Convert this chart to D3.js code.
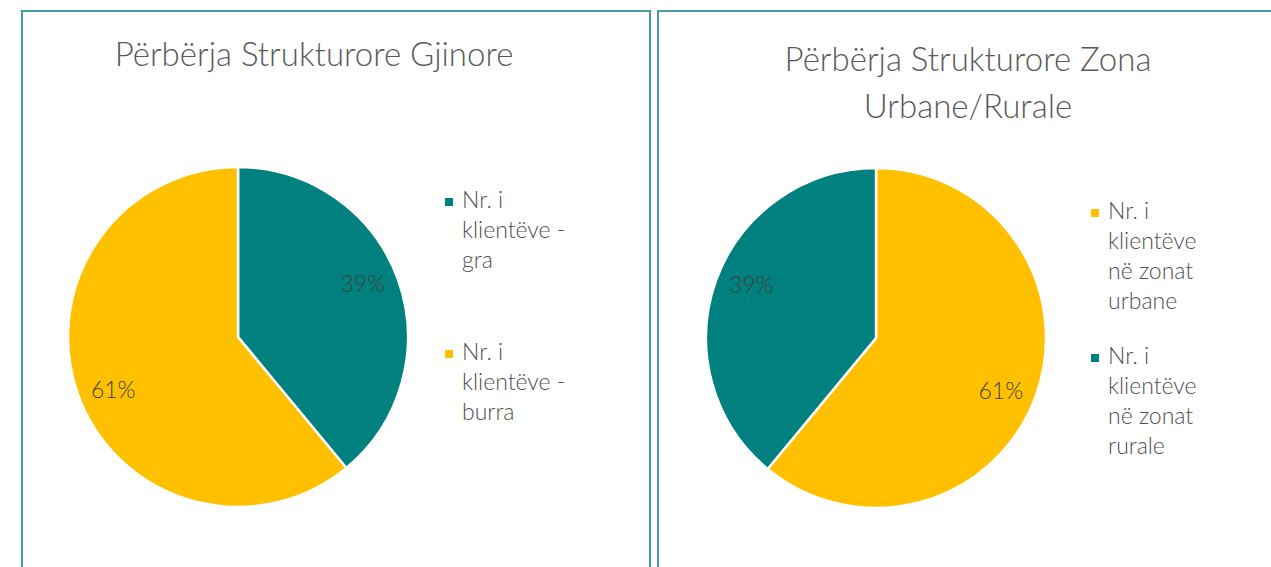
<!DOCTYPE html>
<html><head><meta charset="utf-8">
<script src="https://cdn.jsdelivr.net/npm/d3@7"></script>
<style>html,body{margin:0;padding:0;background:#fff;overflow:hidden}text{font-family:Lato,"Open Sans",sans-serif;font-weight:300}</style>
</head><body>
<svg id="c" width="1271" height="567"></svg>
<script>
const genderCategories = ["Nr. i klientëve - gra", "Nr. i klientëve - burra"];
const genderValues = [39, 61];
const zoneCategories = ["Nr. i klientëve në zonat urbane", "Nr. i klientëve në zonat rurale"];
const zoneValues = [61, 39];
const titles = [["Përbërja Strukturore Gjinore"], ["Përbërja Strukturore Zona", "Urbane/Rurale"]];
const teal = "#00807F", gold = "#FFC000";
const genderColors = [teal, gold];
const zoneColors = [gold, teal];

const svg = d3.select("#c");
const panels = [
  {x:22, w:628, cx:238, cy:337, r:170, lx:445, ly:198, wrap:125, legendGap:152, titleX:314, titleY:66,
   cats:genderCategories, vals:genderValues, cols:genderColors, title:titles[0]},
  {x:658, w:640, cx:876, cy:338, r:170, lx:1091, ly:209, wrap:100, legendGap:145, titleX:968, titleY:71,
   cats:zoneCategories, vals:zoneValues, cols:zoneColors, title:titles[1]}
];
panels.forEach(p => {
  svg.append("rect").attr("x", p.x).attr("y", 11).attr("width", p.w).attr("height", 600)
    .attr("fill", "none").attr("stroke", "#4A9BA5").attr("stroke-width", 2);
  const g = svg.append("g");
  p.title.forEach((t, i) => {
    g.append("text").attr("x", p.titleX).attr("y", p.titleY + i*47).attr("text-anchor", "middle")
      .attr("font-size", 33).attr("fill", "#595959").text(t);
  });
  const pie = d3.pie().sort(null).value(d => d)(p.vals);
  const arc = d3.arc().innerRadius(0).outerRadius(p.r);
  const labelArc = d3.arc().innerRadius(p.r*0.78).outerRadius(p.r*0.78);
  const pg = g.append("g").attr("transform", `translate(${p.cx},${p.cy})`);
  pg.selectAll("path").data(pie).join("path").attr("d", arc)
    .attr("fill", (d,i) => p.cols[i]).attr("stroke", "#fff").attr("stroke-width", 2.5);
  pg.selectAll("text").data(pie).join("text")
    .attr("transform", d => { const c = labelArc.centroid(d); return `translate(${c[0]},${c[1]*1.18})`; })
    .attr("text-anchor", "middle").attr("dy", "0.35em").attr("font-size", 23).attr("fill", "#404040")
    .text(d => d.data + "%");
  p.cats.forEach((c, i) => {
    const y0 = p.ly + i*p.legendGap;
    g.append("rect").attr("x", p.lx).attr("y", y0).attr("width", 8).attr("height", 8).attr("fill", p.cols[i]);
    const t = g.append("text").attr("x", p.lx + 17).attr("y", y0 + 10).attr("font-size", 23).attr("fill", "#505050");
    const words = c.split(" ");
    let line = [];
    let ts = t.append("tspan").attr("x", p.lx + 17).attr("dy", 0);
    words.forEach(w => {
      line.push(w);
      ts.text(line.join(" "));
      if (ts.node().getComputedTextLength() > p.wrap && line.length > 1) {
        line.pop(); ts.text(line.join(" "));
        line = [w];
        ts = t.append("tspan").attr("x", p.lx + 17).attr("dy", 30).text(w);
      }
    });
  });
});
</script>
</body></html>
